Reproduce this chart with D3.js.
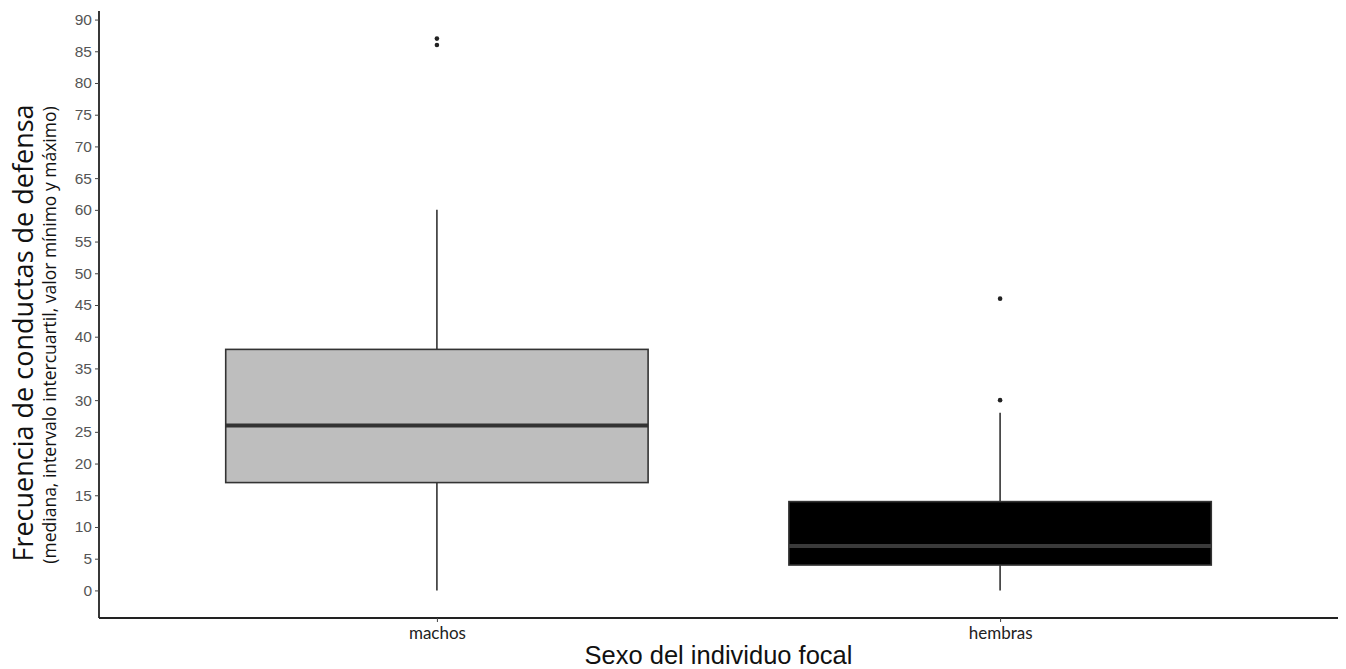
<!DOCTYPE html>
<html>
<head>
<meta charset="utf-8">
<script src="https://cdn.jsdelivr.net/npm/d3@7"></script>
<style>
  body { margin: 0; background: #fff; }
  svg { display: block; }
</style>
</head>
<body>
<svg></svg>
<script>
'use strict';

// chart data
var categories = ['machos', 'hembras'];
var boxMin = [0, 0];
var boxQ1 = [17, 4];
var boxMedian = [26, 7];
var boxQ3 = [38, 14];
var boxMax = [60, 28];
var outliers = [[86, 87], [30, 46]];
var boxFill = ['#bebebe', '#000000'];
var medianColor = ['#333333', '#3a3a3a'];
var yTicks = d3.range(0, 91, 5);

var SVG_SIZE = { width: 1346, height: 669 };
var MARGIN = { left: 99, right: 8, top: 11, bottom: 51 };

var svg = d3.select('svg')
    .attr('width', SVG_SIZE.width).attr('height', SVG_SIZE.height);

var plotW = SVG_SIZE.width - MARGIN.left - MARGIN.right;
var plotH = SVG_SIZE.height - MARGIN.top - MARGIN.bottom;

// ggplot-like expansion: 5% on y, 0.6 units on the discrete x
var yScale = d3.scaleLinear()
    .domain([-4.35, 91.35])
    .range([plotH, 0]);

var xScale = d3.scaleLinear()
    .domain([0.4, 2.6])
    .range([0, plotW]);
var unit = xScale(2) - xScale(1);
var boxW = unit * 0.75;

var plot = svg.append('g')
    .attr('transform', 'translate(' + MARGIN.left + ',' + MARGIN.top + ')');

var data = categories.map(function (c, i) {
    return {
        name: c, pos: i + 1, min: boxMin[i], q1: boxQ1[i], med: boxMedian[i],
        q3: boxQ3[i], max: boxMax[i], out: outliers[i], fill: boxFill[i], medCol: medianColor[i]
    };
});

var groups = plot.selectAll('g.box').data(data).enter().append('g').attr('class', 'box');

// whiskers
groups.append('line')
    .attr('x1', function (d) { return xScale(d.pos) })
    .attr('x2', function (d) { return xScale(d.pos) })
    .attr('y1', function (d) { return yScale(d.q3) })
    .attr('y2', function (d) { return yScale(d.max) })
    .attr('stroke', '#333').attr('stroke-width', 1.6);
groups.append('line')
    .attr('x1', function (d) { return xScale(d.pos) })
    .attr('x2', function (d) { return xScale(d.pos) })
    .attr('y1', function (d) { return yScale(d.q1) })
    .attr('y2', function (d) { return yScale(d.min) })
    .attr('stroke', '#333').attr('stroke-width', 1.6);

// boxes
groups.append('rect')
    .attr('x', function (d) { return xScale(d.pos) - boxW / 2 })
    .attr('width', boxW)
    .attr('y', function (d) { return yScale(d.q3) })
    .attr('height', function (d) { return yScale(d.q1) - yScale(d.q3) })
    .attr('fill', function (d) { return d.fill })
    .attr('stroke', '#333').attr('stroke-width', 1.6);

// median
groups.append('line')
    .attr('x1', function (d) { return xScale(d.pos) - boxW / 2 })
    .attr('x2', function (d) { return xScale(d.pos) + boxW / 2 })
    .attr('y1', function (d) { return yScale(d.med) })
    .attr('y2', function (d) { return yScale(d.med) })
    .attr('stroke', function (d) { return d.medCol }).attr('stroke-width', 4);

// outliers
groups.each(function (d) {
    d3.select(this).selectAll('circle').data(d.out).enter().append('circle')
        .attr('cx', xScale(d.pos))
        .attr('cy', function (v) { return yScale(v) })
        .attr('r', 2.3)
        .attr('fill', '#222');
});

// y axis
var yAxis = d3.axisLeft(yScale).tickValues(yTicks).tickSize(4).tickPadding(3);
var gy = plot.append('g').call(yAxis);
gy.select('.domain').attr('stroke', '#222').attr('stroke-width', 1.8)
    .attr('d', 'M0,' + plotH + 'V' + yScale(91.35) );
gy.selectAll('.tick line').attr('stroke', '#444');
gy.selectAll('.tick text')
    .attr('fill', '#555')
    .style('font-family', 'Liberation Sans, Arial, sans-serif')
    .style('font-size', '15.5px');

// x axis
var xAxis = d3.axisBottom(xScale).tickValues([1, 2])
    .tickFormat(function (d) { return categories[d - 1] })
    .tickSize(4).tickPadding(5);
var gx = plot.append('g').attr('transform', 'translate(0,' + plotH + ')').call(xAxis);
gx.select('.domain').attr('stroke', '#222').attr('stroke-width', 1.8)
    .attr('d', 'M0,0H' + plotW);
gx.selectAll('.tick line').attr('stroke', '#444');
gx.selectAll('.tick text')
    .attr('fill', '#222')
    .style('font-family', 'Lato, Open Sans, sans-serif')
    .style('font-size', '17px');

// axis titles
svg.append('text')
    .text('Sexo del individuo focal')
    .attr('x', MARGIN.left + plotW / 2)
    .attr('y', 664)
    .attr('text-anchor', 'middle')
    .style('font-family', 'Liberation Sans, Arial, sans-serif')
    .style('font-size', '25.5px')
    .attr('fill', '#111');

svg.append('text')
    .text('Frecuencia de conductas de defensa')
    .attr('transform', 'translate(33,333) rotate(-90)')
    .attr('text-anchor', 'middle')
    .style('font-family', 'Open Sans, sans-serif')
    .style('font-size', '27px')
    .attr('fill', '#111');

svg.append('text')
    .text('(mediana, intervalo intercuartil, valor mínimo y máximo)')
    .attr('transform', 'translate(56,335) rotate(-90)')
    .attr('text-anchor', 'middle')
    .style('font-family', 'Open Sans, sans-serif')
    .style('font-size', '17.5px')
    .attr('fill', '#111');
</script>
</body>
</html>
